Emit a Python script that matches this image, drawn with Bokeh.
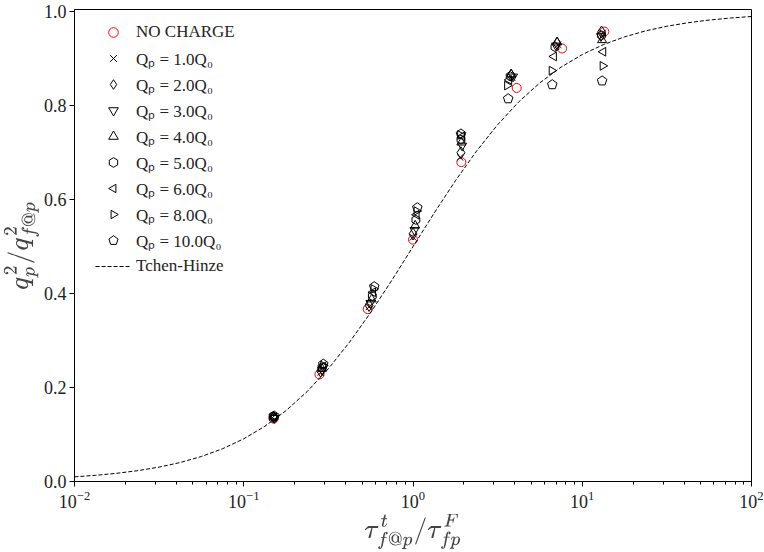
import math
from bokeh.plotting import figure
from bokeh.models import Range1d, FixedTicker, PrintfTickFormatter, Legend, LegendItem, ColumnDataSource, TeX
from bokeh.embed import file_html
from bokeh.resources import INLINE

# ---- data ----
x_nc = [0.150, 0.280, 0.540, 1.00, 1.93, 4.10, 7.60, 13.5]
y_nc = [0.134, 0.228, 0.367, 0.515, 0.680, 0.838, 0.922, 0.958]

x_q1 = [0.148, 0.285, 0.550, 1.00, 1.90, 3.85, 7.20, 13.2]
y_q1 = [0.136, 0.232, 0.372, 0.520, 0.690, 0.860, 0.930, 0.955]

x_q2 = [0.150, 0.285, 0.550, 1.00, 1.92, 3.80, 7.10, 13.0]
y_q2 = [0.137, 0.235, 0.375, 0.527, 0.700, 0.865, 0.933, 0.957]

x_q3 = [0.152, 0.290, 0.560, 1.02, 1.95, 3.90, 7.00, 12.9]
y_q3 = [0.135, 0.237, 0.380, 0.535, 0.715, 0.862, 0.928, 0.948]

x_q4 = [0.150, 0.290, 0.570, 1.03, 1.93, 3.80, 7.10, 13.1]
y_q4 = [0.138, 0.240, 0.388, 0.545, 0.722, 0.867, 0.935, 0.940]

x_q5 = [0.149, 0.290, 0.575, 1.04, 1.92, 3.75, 6.90, 13.0]
y_q5 = [0.139, 0.243, 0.395, 0.557, 0.728, 0.863, 0.925, 0.950]

x_q6 = [0.151, 0.295, 0.580, 1.05, 1.95, 3.70, 6.80, 13.3]
y_q6 = [0.137, 0.245, 0.403, 0.568, 0.735, 0.855, 0.905, 0.915]

x_q8 = [0.150, 0.295, 0.585, 1.05, 1.90, 3.60, 6.60, 13.2]
y_q8 = [0.138, 0.247, 0.410, 0.576, 0.738, 0.843, 0.875, 0.885]

x_q10 = [0.152, 0.295, 0.590, 1.06, 1.92, 3.65, 6.65, 13.1]
y_q10 = [0.139, 0.250, 0.415, 0.583, 0.740, 0.815, 0.845, 0.853]

# Tchen-Hinze curve values
x_th = [0.01, 0.013335, 0.017783, 0.023714, 0.031623, 0.04217, 0.056234, 0.074989,
        0.1, 0.13335, 0.17783, 0.23714, 0.31623, 0.4217, 0.56234, 0.74989,
        1.0, 1.3335, 1.7783, 2.3714, 3.1623, 4.217, 5.6234, 7.4989,
        10.0, 13.335, 17.783, 23.714, 31.623, 42.17, 56.234, 74.989, 100.0]
y_th = [0.0099, 0.01316, 0.01747, 0.02316, 0.03065, 0.04046, 0.05324, 0.06976,
        0.09091, 0.11766, 0.15098, 0.19169, 0.24026, 0.29663, 0.35992, 0.42854,
        0.5, 0.57146, 0.64008, 0.70337, 0.75974, 0.80831, 0.84902, 0.88234,
        0.90909, 0.93024, 0.94676, 0.95954, 0.96935, 0.97683, 0.98253, 0.98684, 0.9901]

y_ticks = [0.0, 0.2, 0.4, 0.6, 0.8, 1.0]

labels = ["NO CHARGE", "Qₚ = 1.0Q₀", "Qₚ = 2.0Q₀", "Qₚ = 3.0Q₀", "Qₚ = 4.0Q₀",
          "Qₚ = 5.0Q₀", "Qₚ = 6.0Q₀", "Qₚ = 8.0Q₀", "Qₚ = 10.0Q₀", "Tchen-Hinze"]

SERIF = "Liberation Serif"

p = figure(width=764, height=552, x_axis_type="log",
           x_range=Range1d(0.01, 100), y_range=Range1d(0.0, 1.005),
           output_backend="svg", toolbar_location=None,
           min_border_left=60, min_border_right=13, min_border_top=9, min_border_bottom=60)

p.xgrid.visible = False
p.ygrid.visible = False
p.outline_line_color = "black"
p.outline_line_alpha = 1.0
p.outline_line_width = 1
p.background_fill_color = "white"
p.border_fill_color = "white"

ms = 9
lw = 1.0

r_nc = p.scatter(x_nc, y_nc, marker="circle", size=ms,
                 fill_alpha=0, line_color="red", line_width=lw)
r1 = p.scatter(x_q1, y_q1, marker="x", size=ms,
               line_color="black", line_width=lw)
r2 = p.scatter(x_q2, y_q2, marker="diamond", size=ms + 3,
               fill_alpha=0, line_color="black", line_width=lw)
r3 = p.scatter(x_q3, y_q3, marker="inverted_triangle", size=ms,
               fill_alpha=0, line_color="black", line_width=lw)
r4 = p.scatter(x_q4, y_q4, marker="triangle", size=ms,
               fill_alpha=0, line_color="black", line_width=lw)
r5 = p.ngon(x=x_q5, y=y_q5, radius=4.5, radius_units="screen", n=6, angle=0.0,
            fill_alpha=0, line_color="black", line_width=lw)
r6 = p.ngon(x=x_q6, y=y_q6, radius=5, radius_units="screen", n=3, angle=math.pi / 2,
            fill_alpha=0, line_color="black", line_width=lw)
r8 = p.ngon(x=x_q8, y=y_q8, radius=5, radius_units="screen", n=3, angle=-math.pi / 2,
            fill_alpha=0, line_color="black", line_width=lw)
r10 = p.ngon(x=x_q10, y=y_q10, radius=5, radius_units="screen", n=5,
             fill_alpha=0, line_color="black", line_width=lw)
r_th = p.line(x_th, y_th, line_color="black", line_width=1, line_dash="4 2")

rends = [r_nc, r1, r2, r3, r4, r5, r6, r8, r10, r_th]
items = [LegendItem(label=lab, renderers=[r], index=0) for lab, r in zip(labels, rends)]

legend = Legend(items=items, location=(21, 203))
legend.label_text_font = SERIF
legend.label_text_font_size = "17px"
legend.label_text_color = "#222222"
legend.border_line_alpha = 0
legend.background_fill_alpha = 0
legend.glyph_width = 36
legend.glyph_height = 24
legend.label_height = 24
legend.spacing = 2
legend.padding = 0
legend.margin = 0
legend.label_standoff = 5
p.add_layout(legend)

for ax in (p.xaxis[0], p.yaxis[0]):
    ax.axis_line_color = "black"
    ax.major_tick_line_color = "black"
    ax.minor_tick_line_color = "black"
    ax.major_tick_out = 5
    ax.major_tick_in = 0
    ax.minor_tick_out = 3
    ax.minor_tick_in = 0
    ax.major_label_text_font = SERIF
    ax.major_label_text_font_size = "18px"
    ax.major_label_text_color = "#222222"
    ax.axis_label_text_font_size = "22px"
    ax.major_label_standoff = 4
    ax.axis_label_standoff = 3

p.yaxis[0].major_label_standoff = 3
p.yaxis[0].axis_label_standoff = 2
p.yaxis[0].ticker = FixedTicker(ticks=y_ticks)
p.yaxis[0].formatter = PrintfTickFormatter(format="%.1f")
p.yaxis[0].minor_tick_line_color = None

p.xaxis[0].axis_label = TeX(text=r"\tau^t_{f@p}/\tau^F_{fp}")
p.yaxis[0].axis_label = TeX(text=r"q_p^2/q^2_{f@p}")

open("out.html", "w").write(file_html(p, INLINE))
